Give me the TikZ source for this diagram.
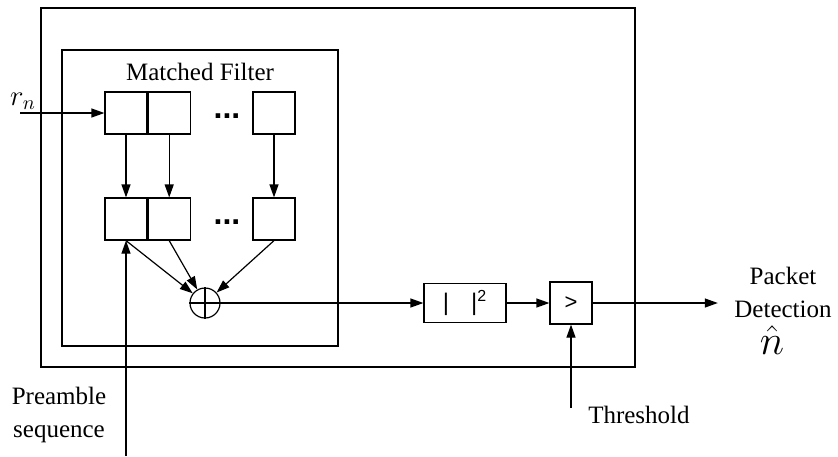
\documentclass[tikz,border=0pt]{standalone}
\usepackage{fontspec}
\setmainfont{Liberation Serif}
\setsansfont{Liberation Sans}
\usetikzlibrary{positioning, arrows.meta}

\begin{document}
\begin{tikzpicture}[
  x=0.5pt, y=-0.5pt,
  font=\fontsize{12.5}{16.5}\selectfont,
  line width=0.6pt,
  >={Triangle[length=6.5pt, width=4.5pt]},
  cell/.style={draw, minimum width=21pt, minimum height=21pt, inner sep=0pt},
  sumnode/.style={draw, circle, minimum size=15pt, inner sep=0pt},
  dotsnode/.style={anchor=base, inner sep=0pt, font=\sffamily\bfseries\fontsize{16}{16}\selectfont},
  lbl/.style={align=center},
]
  \useasboundingbox (0,0) rectangle (838,456);
  \draw (41,8) rectangle (635,367);
  \draw (62,50) rectangle (338,346);
  \node (mf) at (200,72) {Matched Filter};

  % delay line and coefficient taps
  \node[cell] (a1) at (126,113) {};
  \node[cell, right=0pt of a1] (a2) {};
  \node[cell] (aN) at (274,113) {};
  \node[dotsnode] (adots) at (227,118) {...};
  \node[cell] (b1) at (126,219) {};
  \node[cell, right=0pt of b1] (b2) {};
  \node[cell] (bN) at (274,219) {};
  \node[dotsnode] (bdots) at (227,224) {...};

  \node[sumnode] (sum) at (205,303) {};
  \draw (sum.north) -- (sum.south) (sum.west) -- (sum.east);

  \node[draw, minimum width=41pt, minimum height=19.5pt, font=\sffamily\fontsize{12}{14}\selectfont]
    (abs) at (465,303) {|\hspace{11pt}|\textsuperscript{2}};
  \node[cell, font=\sffamily\fontsize{11}{13}\selectfont] (cmp) at (571,303) {>};

  \coordinate (in) at (20,113);
  \node[font=\fontsize{14}{14}\selectfont] (rn) at (23,101) {$r_n$};
  \coordinate (pre) at (126,456);
  \node[lbl] (prelbl) at (59,415) {Preamble\\sequence};
  \coordinate (thr) at (571,408);
  \node[anchor=west] (thrlbl) at (581,415) {Threshold};
  \node[lbl, inner xsep=8pt, inner ysep=1pt] (pd) at (783,292) {Packet\\Detection};
  \node[anchor=base, inner sep=1pt, font=\fontsize{20}{20}\selectfont] (nhat) at (772,354) {$\hat{n}$};

  \draw[->] (in) -- (a1.west);
  \draw[->] (a1) -- (b1);
  \draw[->] (a2) -- (b2);
  \draw[->] (aN) -- (bN);
  \draw[->] (b1.south) -- (sum);
  \draw[->] (b2.south) -- (sum);
  \draw[->] (bN.south) -- (sum);
  \draw[->] (pre) -- (b1.south);
  \draw[->] (sum.east) -- (abs.west);
  \draw[->] (abs) -- (cmp);
  \draw[->] (cmp.east) -- (cmp.east -| pd.west);
  \draw[->] (thr) -- (cmp.south);
\end{tikzpicture}
\end{document}
